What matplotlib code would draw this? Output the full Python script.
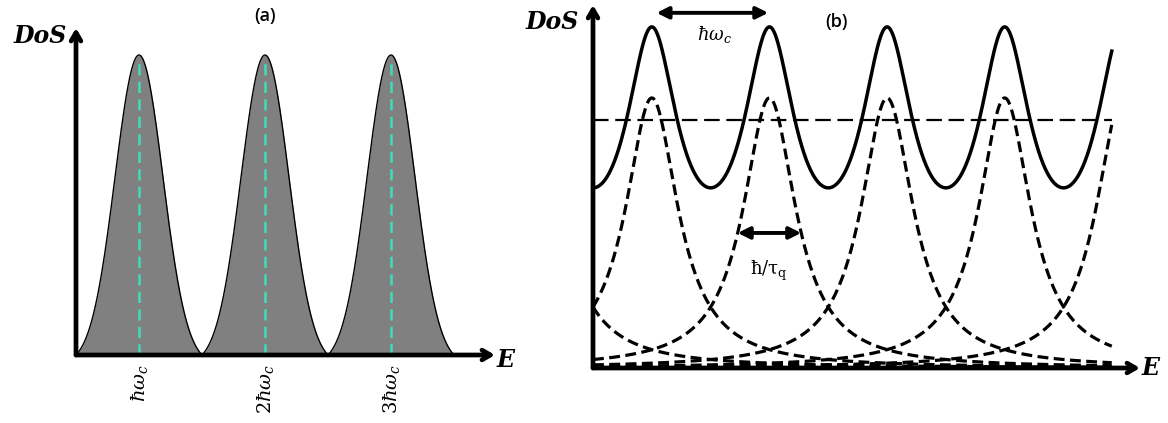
import numpy as np
import matplotlib
matplotlib.use("Agg")
import matplotlib.pyplot as plt

plt.rcParams['mathtext.fontset'] = 'dejavuserif'

# ---------------- data ----------------
# panel (a): Landau levels broadened as Gaussians (energy in units of hbar*omega_c)
a_centers = [1.0, 2.0, 3.0]
a_heights = [1.0, 1.0, 1.0]
a_sigma = 0.19
a_tick_labels = [r'$\hbar\omega_c$', r'$2\hbar\omega_c$', r'$3\hbar\omega_c$']

# panel (b): Lorentzian-broadened levels, total DoS and mean DoS
b_centers = [-0.5, 0.5, 1.5, 2.5, 3.5, 4.5]
b_height = 1.0
b_gamma = 0.27
b_solid_peak = 1.263
b_solid_min = 0.667
b_mean_level = 0.919
b_x_end = 4.41

W, H = 1168, 423
fig = plt.figure(figsize=(W / 100, H / 100), dpi=100)
fig.patch.set_facecolor('white')


def px_axes(left, right, top, bottom):
    return fig.add_axes([left / W, 1 - bottom / H, (right - left) / W, (bottom - top) / H])


label_font = dict(family='DejaVu Serif', style='italic', weight='bold', fontsize=17)
axis_arrow = dict(arrowstyle='->,head_length=0.6,head_width=0.35', lw=3.4, color='black',
                  shrinkA=0, shrinkB=0)

# ---------------- panel (a) ----------------
axa = px_axes(76, 495, 28, 355)
axa.set_xlim(0.5, 3.825)
axa.set_ylim(0, 1.09)
axa.axis('off')
for c, h in zip(a_centers, a_heights):
    x = np.linspace(c - 0.5, c + 0.5, 300)
    e0 = np.exp(-0.25 / (2 * a_sigma ** 2))
    y = h * (np.exp(-(x - c) ** 2 / (2 * a_sigma ** 2)) - e0) / (1 - e0)
    axa.fill_between(x, 0, y, color='#808080', lw=0)
    axa.plot(x, y, color='black', lw=1.0)
    axa.plot([c, c], [0, h * 0.98], color='#3fdcb8', lw=1.8, dashes=(4.5, 2.5))
axa.annotate('', xy=(3.825, 0), xytext=(0.5, 0), annotation_clip=False, arrowprops=axis_arrow)
axa.annotate('', xy=(0.5, 1.09), xytext=(0.5, 0), annotation_clip=False, arrowprops=axis_arrow)
for c, lab in zip(a_centers, a_tick_labels):
    axa.text(c, -0.03, lab, rotation=90, ha='center', va='top', fontsize=14,
             transform=axa.transData)
fig.text(40 / W, 1 - 36 / H, 'DoS', ha='center', va='center', **label_font)
fig.text(506 / W, 1 - 360 / H, 'E', ha='center', va='center', **label_font)
fig.text(265 / W, 1 - 16 / H, '(a)', ha='center', va='center', fontsize=13,
         family='Open Sans', weight='semibold')

# ---------------- panel (b) ----------------
axb = px_axes(593, 1140, 5, 368)
axb.set_xlim(0, 4.65)
axb.set_ylim(0, 1.344)
axb.axis('off')
xb = np.linspace(0, b_x_end, 1200)
for c in b_centers:
    yb = b_height / (1 + ((xb - c) / b_gamma) ** 2)
    axb.plot(xb, yb, color='black', lw=2.3, dashes=(3.4, 1.7))
# total DoS (periodic Lorentzian sum shape)
a_par = 2 * np.pi * b_gamma
f = 1.0 / (np.cosh(a_par) - np.cos(2 * np.pi * (xb - 0.5)))
fmin, fmax = 1.0 / (np.cosh(a_par) + 1), 1.0 / (np.cosh(a_par) - 1)
ys = b_solid_min + (f - fmin) / (fmax - fmin) * (b_solid_peak - b_solid_min)
axb.plot(xb, ys, color='black', lw=2.5)
axb.plot([0, b_x_end], [b_mean_level, b_mean_level], color='black', lw=1.6, dashes=(7, 3))
axb.annotate('', xy=(4.65, 0), xytext=(0, 0), annotation_clip=False, arrowprops=axis_arrow)
axb.annotate('', xy=(0, 1.344), xytext=(0, 0), annotation_clip=False, arrowprops=axis_arrow)
# spacing arrow hbar*omega_c
axb.annotate('', xy=(1.49, 1.315), xytext=(0.54, 1.315), annotation_clip=False,
             arrowprops=dict(arrowstyle='<|-|>,head_length=0.7,head_width=0.35', lw=2.8, color='black',
                             shrinkA=0, shrinkB=0))
axb.text(1.03, 1.235, r'$\hbar\omega_c$', ha='center', va='center', fontsize=13)
# width arrow hbar/tau_q
axb.annotate('', xy=(1.5 + b_gamma, b_height / 2), xytext=(1.5 - b_gamma, b_height / 2),
             annotation_clip=False,
             arrowprops=dict(arrowstyle='<|-|>,head_length=0.7,head_width=0.35', lw=2.8, color='black',
                             shrinkA=0, shrinkB=0))
axb.text(1.49, 0.36, r'$\mathrm{\hbar/\tau_q}$', ha='center', va='center', fontsize=13)
fig.text(552 / W, 1 - 22 / H, 'DoS', ha='center', va='center', **label_font)
fig.text(1151 / W, 1 - 368 / H, 'E', ha='center', va='center', **label_font)
fig.text(836 / W, 1 - 22 / H, '(b)', ha='center', va='center', fontsize=13,
         family='Open Sans', weight='semibold')

fig.savefig('out.png', dpi=100, facecolor='white')
